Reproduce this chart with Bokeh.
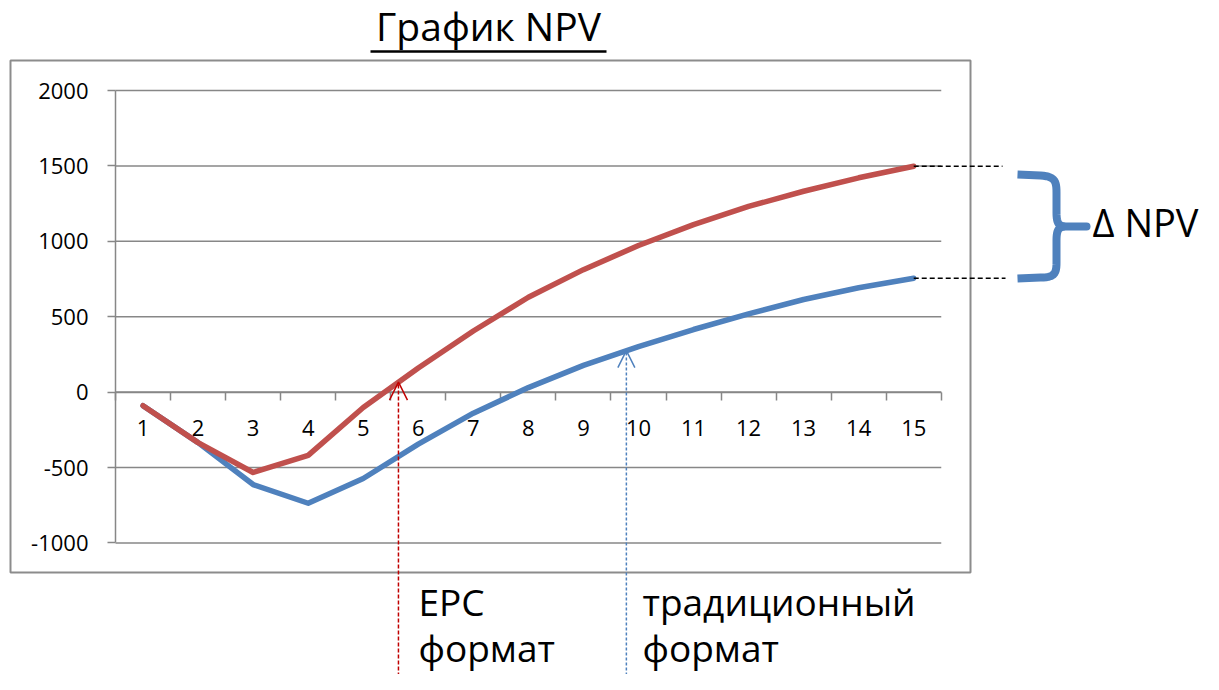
from bokeh.plotting import figure
from bokeh.models import LinearAxis, FixedTicker, Range1d, Arrow, OpenHead
from bokeh.core.properties import value
from bokeh.embed import file_html
from bokeh.resources import INLINE
import numpy as np

# ---------------- data ----------------
CATEGORIES = list(range(1, 16))
EPC_NPV = [-90, -335, -533, -420, -102, 160, 405, 629, 812, 972, 1111, 1231, 1332, 1421, 1498]
TRAD_NPV = [-90, -335, -613, -737, -573, -345, -140, 30, 177, 302, 415, 519, 614, 692, 755]
Y_TICKS = [-1000, -500, 0, 500, 1000, 1500, 2000]
TITLE = "График NPV"
EPC_LABEL = ["EPC", "формат"]
TRAD_LABEL = ["традиционный", "формат"]
DELTA_LABEL = "Δ NPV"
EPC_ARROW_AT = 5.64
TRAD_ARROW_AT = 9.78

RED = "#C0504D"
BLUE = "#4F81BD"
GRAY = "#878787"
FONT = "Open Sans"

W, H = 1203, 674
X0, DX = 115.0, 55.05               # px of x=0.5, px per category
Y0, SY = 391.6, 0.1508              # px of value 0, px per unit


def dx(px):
    return 0.5 + (px - X0) / DX


def dy(py):
    return (Y0 - py) / SY


def base(py, size):
    # place a text so that its alphabetic baseline lands at py
    return dy(py - 0.46 * size)


def cubic(p0, c0, c1, p1, n=14):
    t = np.linspace(0, 1, n)[:, None]
    pts = ((1 - t) ** 3) * np.array(p0) + 3 * ((1 - t) ** 2) * t * np.array(c0) \
        + 3 * (1 - t) * t ** 2 * np.array(c1) + t ** 3 * np.array(p1)
    return pts


p = figure(width=W, height=H, output_backend="svg", toolbar_location=None,
           x_axis_type=None, y_axis_type=None,
           x_range=Range1d(dx(0), dx(W)), y_range=Range1d(dy(H), dy(0)),
           min_border=0, min_border_left=0, min_border_right=0,
           min_border_top=0, min_border_bottom=0)
p.outline_line_color = None
p.background_fill_color = "white"
p.border_fill_color = "white"
p.xgrid.visible = False
p.ygrid.visible = False

# chart box
p.quad(left=dx(10), right=dx(970), top=dy(60), bottom=dy(572),
       fill_color=None, line_color="#8C8C8C", line_width=2)

# gridlines
lo, hi = CATEGORIES[0] - 0.5, CATEGORIES[-1] + 0.5
p.segment(x0=[lo] * len(Y_TICKS), x1=[hi] * len(Y_TICKS), y0=Y_TICKS, y1=Y_TICKS,
          line_color=GRAY, line_width=1.5)

# y axis
yax = LinearAxis(fixed_location=lo, bounds=(Y_TICKS[0], Y_TICKS[-1]),
                 ticker=FixedTicker(ticks=Y_TICKS))
yax.major_label_overrides = {t: str(t) for t in Y_TICKS}
yax.axis_line_color = GRAY
yax.axis_line_width = 1.5
yax.major_tick_line_color = GRAY
yax.major_tick_line_width = 1.5
yax.major_tick_out = 8
yax.major_tick_in = 0
yax.minor_tick_line_color = None
yax.major_label_standoff = 19
yax.major_label_text_font = FONT
yax.major_label_text_font_size = "22px"
yax.major_label_text_color = "black"
yax.level = "underlay"
p.add_layout(yax, "left")

# x axis line + boundary ticks
xax = LinearAxis(fixed_location=0, bounds=(lo, hi),
                 ticker=FixedTicker(ticks=[c - 0.5 for c in CATEGORIES] + [hi]))
xax.axis_line_color = GRAY
xax.axis_line_width = 1.5
xax.major_tick_line_color = GRAY
xax.major_tick_line_width = 1.5
xax.major_tick_out = 8
xax.major_tick_in = 0
xax.minor_tick_line_color = None
xax.major_label_text_color = None
xax.level = "underlay"
p.add_layout(xax, "below")

# x category labels
xlab = LinearAxis(fixed_location=0, ticker=FixedTicker(ticks=CATEGORIES))
xlab.axis_line_color = None
xlab.major_tick_line_color = None
xlab.minor_tick_line_color = None
xlab.major_tick_out = 0
xlab.major_tick_in = 0
xlab.major_label_standoff = 28
xlab.major_label_text_font = FONT
xlab.major_label_text_font_size = "22px"
xlab.major_label_text_color = "black"
xlab.level = "underlay"
p.add_layout(xlab, "below")

# series
p.line(CATEGORIES, TRAD_NPV, line_color=BLUE, line_width=5.5, line_join="round", line_cap="round")
p.line(CATEGORIES, EPC_NPV, line_color=RED, line_width=5.5, line_join="round", line_cap="round")

# dashed leaders to delta brace
p.segment(x0=[CATEGORIES[-1], CATEGORIES[-1]], x1=[dx(1002), dx(1005)],
          y0=[EPC_NPV[-1], TRAD_NPV[-1]], y1=[EPC_NPV[-1], TRAD_NPV[-1]],
          line_color="black", line_width=1.5, line_dash="5 3")

# arrows
red_tip = float(np.interp(EPC_ARROW_AT, CATEGORIES, EPC_NPV))
blue_tip = float(np.interp(TRAD_ARROW_AT, CATEGORIES, TRAD_NPV))
p.add_layout(Arrow(end=OpenHead(size=18, line_color="#C00000", line_width=1.5),
                   x_start=EPC_ARROW_AT, y_start=dy(700), x_end=EPC_ARROW_AT, y_end=red_tip,
                   line_color="#C00000", line_width=1.5, line_dash="4 2"))
p.add_layout(Arrow(end=OpenHead(size=17, line_color=BLUE, line_width=1.5),
                   x_start=TRAD_ARROW_AT, y_start=dy(700), x_end=TRAD_ARROW_AT, y_end=blue_tip,
                   line_color=BLUE, line_width=1.5, line_dash="3 2"))

# brace (decorative path, pixel geometry)
path = [np.array([[1017, 174], [1040, 175]])]
path.append(cubic((1040, 175), (1054, 176), (1056, 180), (1056, 192)))
path.append(np.array([[1056, 192], [1056, 212]]))
path.append(cubic((1056, 212), (1056, 222), (1058, 225), (1063, 226)))
path.append(cubic((1063, 226), (1058, 227), (1056, 230), (1056, 240)))
path.append(np.array([[1056, 240], [1056, 262]]))
path.append(cubic((1056, 262), (1056, 273), (1054, 277), (1040, 277)))
path.append(np.array([[1040, 277], [1017, 278]]))
pts = np.vstack(path)
p.line(x=[dx(v) for v in pts[:, 0]], y=[dy(v) for v in pts[:, 1]],
       line_color=BLUE, line_width=8, line_join="round", line_cap="butt")
p.segment(x0=[dx(1060)], x1=[dx(1086)], y0=[dy(226)], y1=[dy(226)],
          line_color=BLUE, line_width=8, line_cap="round")

# title
p.text(x=[dx(488)], y=[base(43, 39)], text=[TITLE], text_font=value(FONT),
       text_font_size="39px", text_align="center", text_baseline="alphabetic",
       text_color="black")
p.segment(x0=[dx(370)], x1=[dx(606)], y0=[dy(51)], y1=[dy(51)],
          line_color="black", line_width=2.5)

# texts
p.text(x=[dx(418), dx(418)], y=[base(618, 37), base(664, 37)], text=EPC_LABEL,
       text_font=value(FONT), text_font_size="37px", text_align="left",
       text_baseline="alphabetic", text_color="black")
p.text(x=[dx(642), dx(642)], y=[base(618, 37), base(664, 37)], text=TRAD_LABEL,
       text_font=value(FONT), text_font_size="37px", text_align="left",
       text_baseline="alphabetic", text_color="black")
p.text(x=[dx(1092)], y=[base(239, 38)], text=[DELTA_LABEL],
       text_font=value(FONT), text_font_size="38px", text_align="left",
       text_baseline="alphabetic", text_color="black")

open("out.html", "w").write(file_html(p, INLINE))
